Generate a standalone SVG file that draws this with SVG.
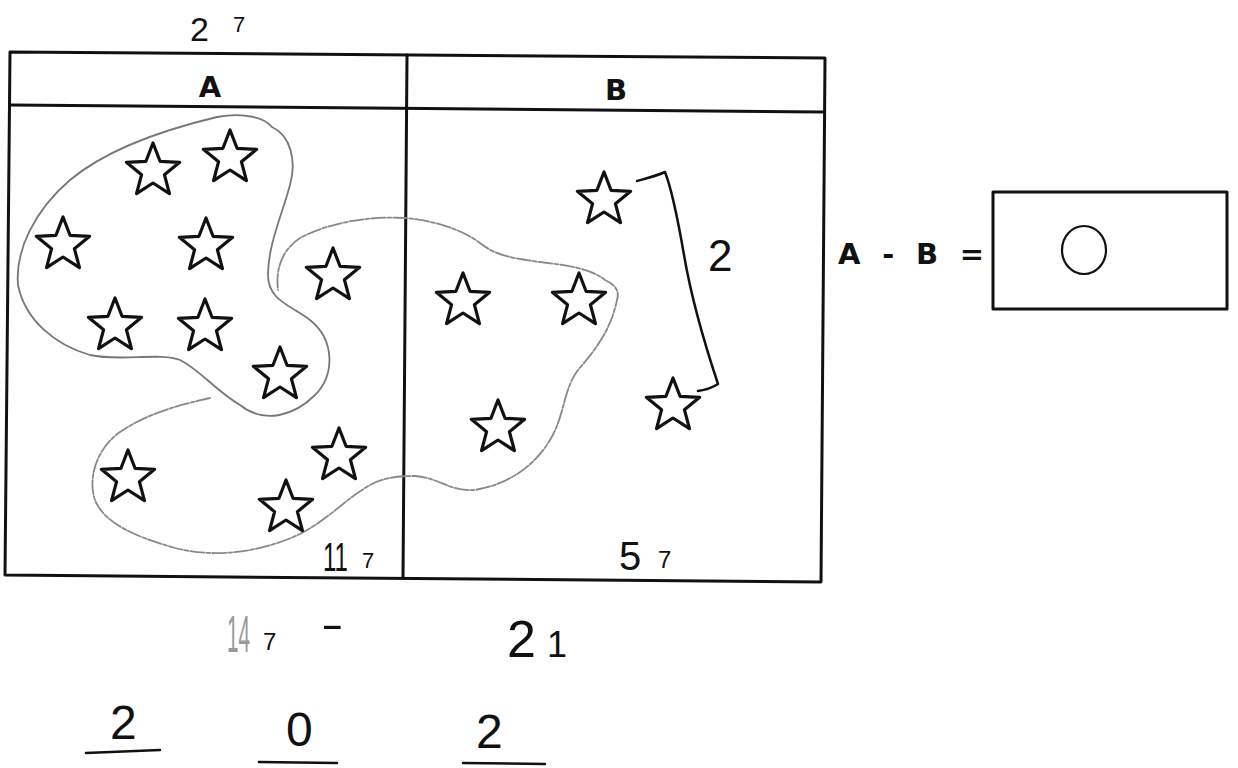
<svg xmlns="http://www.w3.org/2000/svg" width="1238" height="768" viewBox="0 0 1238 768">
<style>
.frame{fill:none;stroke:#111;stroke-width:3;stroke-linecap:round;stroke-linejoin:round}
.star{fill:#fff;stroke:#111;stroke-width:3.2;stroke-linejoin:round}
.blob{fill:none;stroke:#777;stroke-width:1.8;stroke-linecap:round;stroke-linejoin:round}
.blob2{fill:none;stroke:#888;stroke-width:1.8;stroke-dasharray:14 2 4 2;stroke-linecap:round}
.hdr{font-family:"DejaVu Sans",sans-serif;font-weight:bold;fill:#111;text-anchor:middle}
.hand{font-family:"Liberation Sans",sans-serif;fill:#111}
.pen{fill:none;stroke:#111;stroke-width:2.5;stroke-linecap:round;stroke-linejoin:round}
</style>
<defs>
<path id="s" d="M0,-28 L7.05,-9.71 L26.63,-8.65 L11.41,3.71 L16.46,22.65 L0,12 L-16.46,22.65 L-11.41,3.71 L-26.63,-8.65 L-7.05,-9.71 Z"/>
</defs>
<rect width="1238" height="768" fill="#fff"/>

<g id="table">
<path class="frame" d="M10,52 L825,58 L821,582 L5,575 Z"/>
<path class="frame" d="M10,105 L823,112"/>
<path class="frame" d="M407,55 L403,578"/>
<text class="hdr" x="210" y="97" font-size="29">A</text>
<text class="hdr" x="616" y="100" font-size="29">B</text>
</g>

<g id="groups">
<path class="blob" d="M217,117 C245,112 265,118 272,127 C290,135 297,160 290,185 C282,215 268,245 268,275 C268,300 290,305 310,320 C335,340 335,375 315,395 C295,415 265,425 240,405 C215,390 200,370 180,360 C160,352 120,362 90,355 C55,345 25,320 18,285 C15,250 35,210 70,180 C100,155 150,133 217,117 Z"/>
<path class="blob2" d="M210,398 C180,405 150,412 120,432 C95,450 88,480 95,500 C105,525 140,538 175,548 C210,557 255,555 300,534 C330,518 345,500 365,488 C380,478 395,476 415,476 C440,478 450,492 475,490 C510,484 535,465 550,440 C565,415 563,390 578,370 C600,345 612,325 617,300 C620,290 614,284 605,280 C590,268 565,265 540,262 C510,258 495,255 480,243 C460,228 430,220 405,218 C370,216 330,222 300,238 C285,248 275,265 278,290"/>
</g>

<g id="starsA">
<use href="#s" class="star" x="153" y="171"/>
<use href="#s" class="star" x="230" y="158"/>
<use href="#s" class="star" x="63" y="245"/>
<use href="#s" class="star" x="206" y="246"/>
<use href="#s" class="star" x="333" y="276"/>
<use href="#s" class="star" x="115" y="326"/>
<use href="#s" class="star" x="205" y="327"/>
<use href="#s" class="star" x="280" y="375"/>
<use href="#s" class="star" x="339" y="456"/>
<use href="#s" class="star" x="128" y="478"/>
<use href="#s" class="star" x="286" y="508"/>
</g>

<g id="starsB">
<use href="#s" class="star" x="604" y="200"/>
<use href="#s" class="star" x="463" y="301"/>
<use href="#s" class="star" x="579" y="301"/>
<use href="#s" class="star" x="498" y="428"/>
<use href="#s" class="star" x="673" y="406"/>
</g>

<g id="bracket">
<path class="pen" d="M637,181 C648,178 656,176 665,172 C672,190 678,220 684,255 C690,290 700,330 718,384 C712,388 705,390 698,391"/>
<text class="hand" x="708" y="271" font-size="44">2</text>
</g>

<g id="handwriting">
<text class="hand" x="190" y="41" font-size="34">2</text>
<text class="hand" x="233" y="32" font-size="22">7</text>
<text class="hand" transform="translate(323,571) scale(0.6,1)" font-size="40">11</text>
<text class="hand" x="362" y="568" font-size="22">7</text>
<text class="hand" x="619" y="570" font-size="40">5</text>
<text class="hand" x="658" y="568" font-size="24">7</text>
<text class="hand" transform="translate(227,652) scale(0.4,1)" font-size="52" style="fill:#999">14</text>
<text class="hand" x="263" y="650" font-size="24">7</text>
<text class="hand" transform="translate(321,638) scale(1.7,1)" font-size="40">-</text>
<text class="hand" x="507" y="657" font-size="52">2</text>
<text class="hand" x="547" y="657" font-size="36">1</text>
<text class="hand" x="110" y="739" font-size="48">2</text>
<text class="hand" x="286" y="746" font-size="48">0</text>
<text class="hand" x="476" y="748" font-size="48">2</text>
<path class="pen" d="M86,753 L160,750"/>
<path class="pen" d="M259,762 L337,763"/>
<path class="pen" d="M463,763 L545,764"/>
</g>

<g id="equation">
<text class="hdr" x="838" y="264" font-size="29" textLength="146" lengthAdjust="spacing" style="text-anchor:start">A - B =</text>
<rect x="993" y="192" width="234" height="117" class="frame"/>
<ellipse cx="1084" cy="250" rx="22" ry="24" class="pen" style="stroke-width:2.2"/>
</g>
</svg>
